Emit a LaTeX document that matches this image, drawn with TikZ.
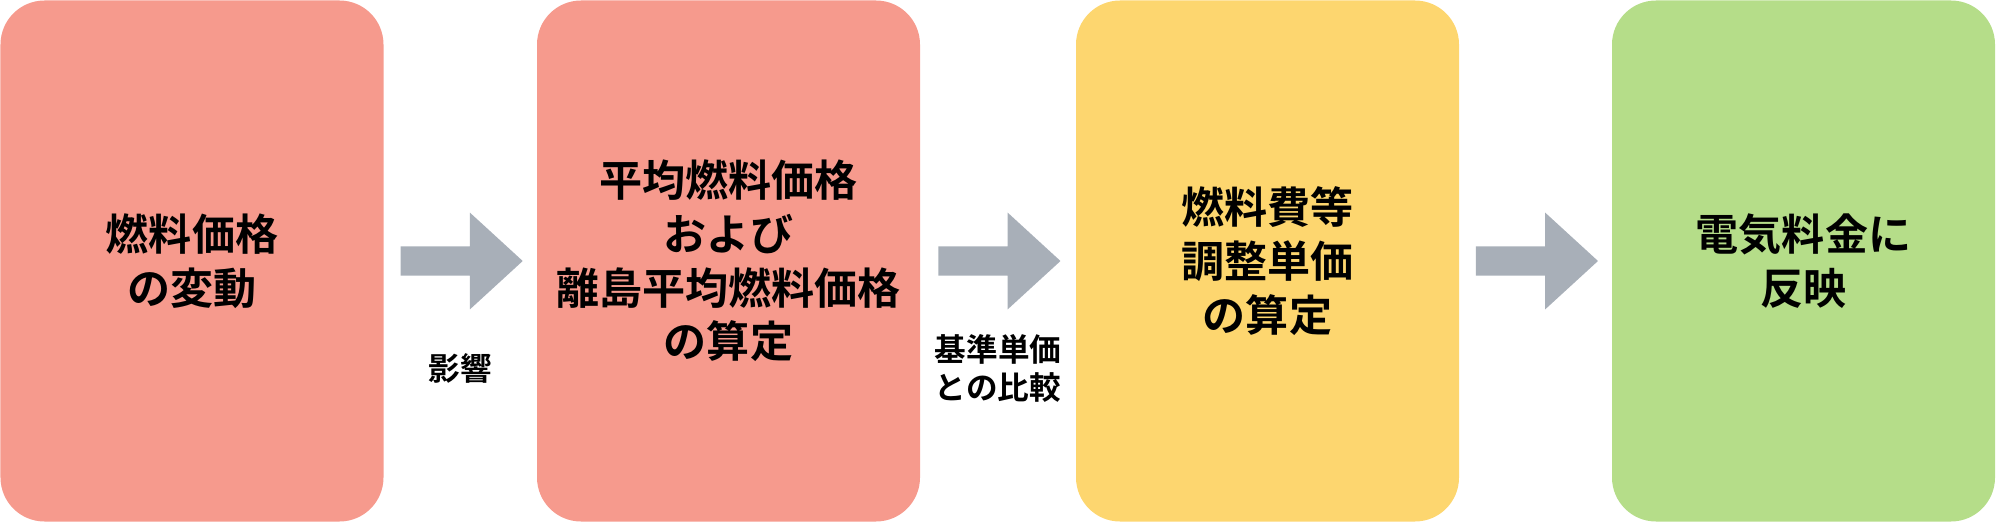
\documentclass[tikz,border=0pt]{standalone}
\usepackage{fontspec}
\newfontfamily\jpfont{Noto Sans CJK JP}[BoldFont={* Bold}]
\usetikzlibrary{shapes.arrows,calc}
\definecolor{fuelred}{HTML}{F69A8D}
\definecolor{rateyellow}{HTML}{FDD66F}
\definecolor{billgreen}{HTML}{B5DD89}
\definecolor{arrowgray}{HTML}{A8AFB8}
\begin{document}
\begin{tikzpicture}[node distance=2cm,auto,>=latex]
\tikzset{
  stage/.style={shape=rectangle,rounded corners=0.88cm,minimum width=7.66cm,minimum height=10.42cm,align=center,
    font=\jpfont\bfseries\fontsize{24.5}{30.5}\selectfont},
  flow/.style={single arrow,fill=arrowgray,inner xsep=0pt,inner ysep=0.285cm,minimum height=2.44cm,minimum width=1.92cm,
    single arrow head extend=0.675cm,single arrow tip angle=85,xshift=-0.13cm},
  note/.style={align=center,font=\jpfont\bfseries\fontsize{18}{21.6}\selectfont}
}
\useasboundingbox (0,0) rectangle (39.92,10.44);
\node[stage,fill=fuelred] (change) at (3.84,5.22) {燃料価格\\の変動};
\node[stage,fill=fuelred] (average) at (14.57,5.22) {平均燃料価格\\および\\離島平均燃料価格\\の算定};
\node[stage,fill=rateyellow] (unit) at (25.35,5.22) {燃料費等\\調整単価\\の算定};
\node[stage,fill=billgreen] (bill) at (36.07,5.22) {電気料金に\\反映};
\node[flow] (a1) at ($(change.east)!0.5!(average.west)$) {};
\node[flow] (a2) at ($(average.east)!0.5!(unit.west)$) {};
\node[flow] (a3) at ($(unit.east)!0.5!(bill.west)$) {};
\node[note] (effect) at ($(change.east)!0.5!(average.west)+(0,-2.15)$) {影響};
\node[note] (compare) at ($(average.east)!0.5!(unit.west)+(0,-2.15)$) {基準単価\\との比較};
\end{tikzpicture}
\end{document}
